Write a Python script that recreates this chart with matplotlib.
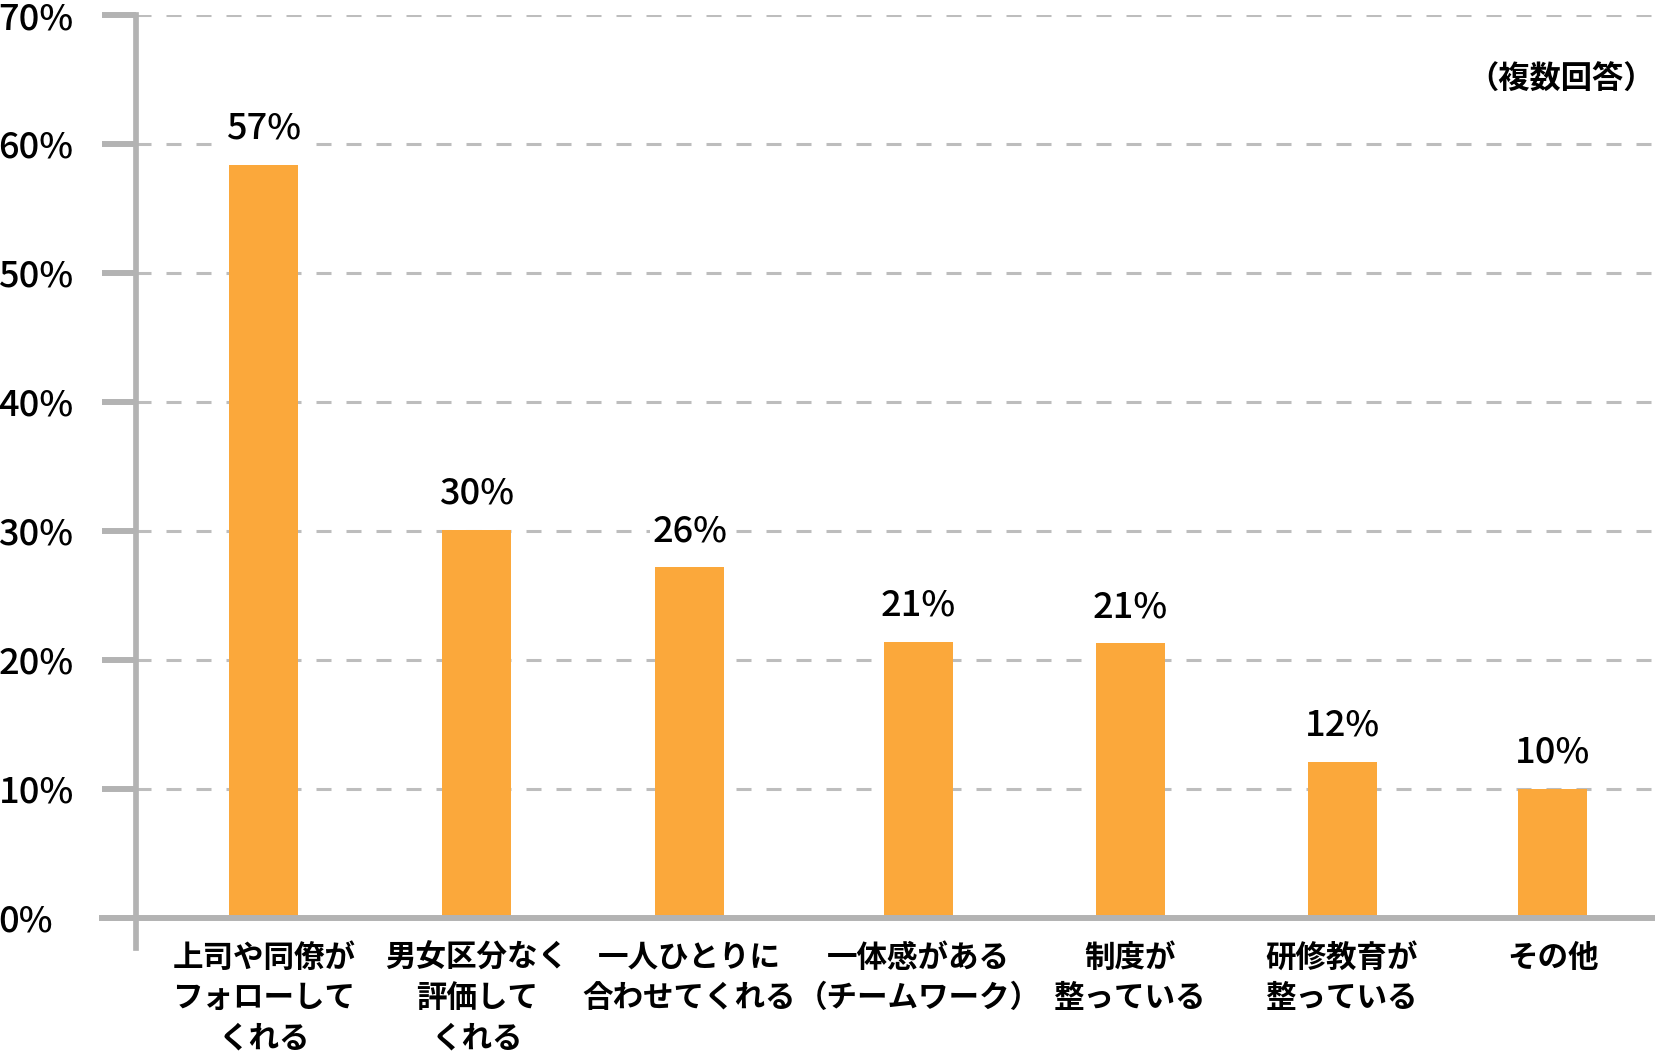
import matplotlib
matplotlib.use('Agg')
import matplotlib.pyplot as plt

plt.rcParams['font.family'] = ['Noto Sans CJK JP', 'DejaVu Sans']
plt.rcParams['lines.scale_dashes'] = False

# data
categories = ['上司や同僚が\nフォローして\nくれる',
              '男女区分なく\n評価して\nくれる',
              '一人ひとりに\n合わせてくれる',
              '一体感がある\n（チームワーク）',
              '制度が\n整っている',
              '研修教育が\n整っている',
              'その他']
values = [58.4, 30.1, 27.2, 21.4, 21.3, 12.1, 10.0]
value_labels = ['57%', '30%', '26%', '21%', '21%', '12%', '10%']
yticks = [0, 10, 20, 30, 40, 50, 60, 70]
ytick_labels = ['0%', '10%', '20%', '30%', '40%', '50%', '60%', '70%']
note = '（複数回答）'

# bar centres (in bar-spacing units)
xpos = [0, 1, 2, 3.075, 4.07, 5.065, 6.055]

bar_color = '#FBA83B'
axis_gray = '#b3b3b3'
grid_gray = '#bdbdbd'

fig = plt.figure(figsize=(16.56, 10.54), dpi=100)
ax = fig.add_axes([136 / 1656, 106 / 1054, 1 - 136 / 1656, (1054 - 15 - 106) / 1054])

ax.bar(xpos, values, width=0.324, color=bar_color, zorder=2)

ax.set_xlim(-0.601, 6.54)
ax.set_ylim(-2.33, 70)

# dashed grid
for y in yticks[1:]:
    ax.axhline(y, color=grid_gray, lw=2.2, dashes=(10.8, 10.8), zorder=1)

# baseline, running a bit left of the axis
ax.axhline(0, xmin=-0.0224, xmax=1, color=axis_gray, lw=4.3,
           zorder=3, clip_on=False)

for s in ['top', 'right', 'bottom']:
    ax.spines[s].set_visible(False)
ax.spines['left'].set_color(axis_gray)
ax.spines['left'].set_linewidth(4.1)

ax.set_xticks([])
ax.set_yticks(yticks)
ax.set_yticklabels(ytick_labels, fontsize=26, fontweight='medium')
ax.tick_params(axis='y', length=24.5, width=4.3, color=axis_gray, pad=74.5)
for lbl in ax.get_yticklabels():
    lbl.set_horizontalalignment('left')

# value labels
for x, v, t in zip(xpos, values, value_labels):
    ax.annotate(t, (x, v), xytext=(0, 13), textcoords='offset points',
                ha='center', va='bottom', fontsize=26, fontweight='medium',
                zorder=4,
                bbox=dict(boxstyle='square,pad=0.05', fc='white', ec='none'))

# category labels below the baseline
for x, c in zip(xpos, categories):
    ax.annotate(c, (x, 0), xytext=(0, -17), textcoords='offset points',
                ha='center', va='top', fontsize=22, fontweight='bold',
                linespacing=1.33, annotation_clip=False)

fig.text(0.9995, 1 - 80 / 1054, note, ha='right', va='center',
         fontsize=22.5, fontweight='bold')

fig.savefig('out.png', dpi=100)
